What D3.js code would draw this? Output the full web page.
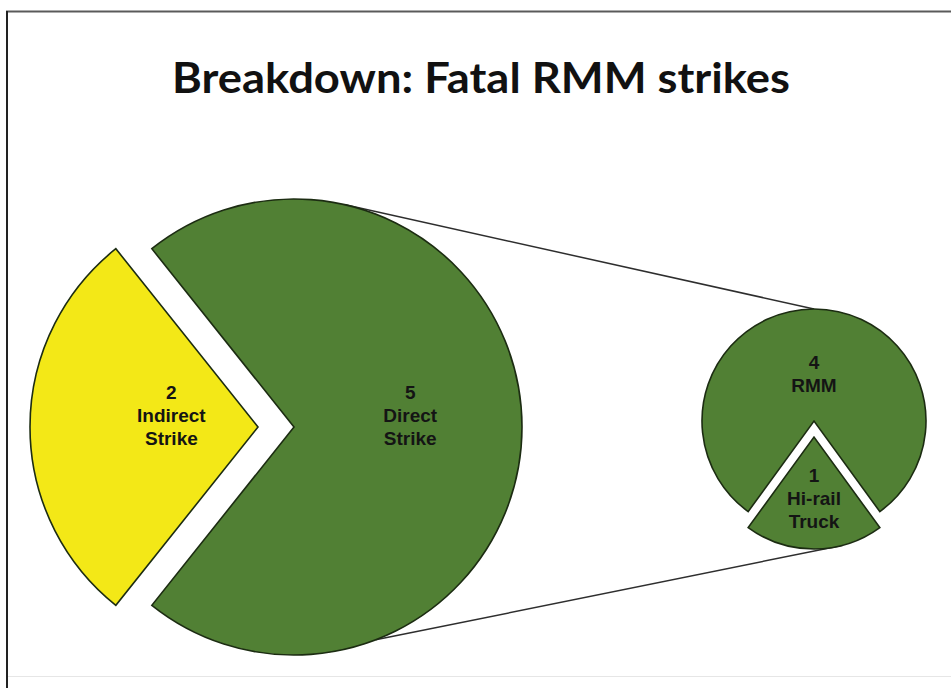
<!DOCTYPE html>
<html>
<head>
<meta charset="utf-8">
<script src="https://cdn.jsdelivr.net/npm/d3@7"></script>
<style>
  body { margin: 0; background: #fff; }
</style>
</head>
<body>
<script>
// chart values
const title = "Breakdown: Fatal RMM strikes";
const mainLabels = ["Indirect Strike", "Direct Strike"];
const mainValues = [2, 5];
const subLabels = ["RMM", "Hi-rail Truck"];
const subValues = [4, 1];

const width = 951, height = 688;

const svg = d3.select("body").append("svg")
    .attr("width", width)
    .attr("height", height);

// frame (top and left edges, faint bottom)
svg.append("line").attr("x1", 6).attr("x2", width).attr("y1", 11.5).attr("y2", 11.5)
    .attr("stroke", "#5a5a5a").attr("stroke-width", 2);
svg.append("line").attr("x1", 7).attr("x2", 7).attr("y1", 11).attr("y2", height)
    .attr("stroke", "#222").attr("stroke-width", 2);
svg.append("line").attr("x1", 8).attr("x2", width).attr("y1", 676.5).attr("y2", 676.5)
    .attr("stroke", "#e6e6e6").attr("stroke-width", 1);

// title
svg.append("text")
    .attr("x", 481).attr("y", 93)
    .attr("text-anchor", "middle")
    .attr("font-family", "Lato, 'Open Sans', sans-serif")
    .attr("font-weight", "bold")
    .attr("font-size", 42)
    .attr("textLength", 618)
    .attr("lengthAdjust", "spacingAndGlyphs")
    .attr("fill", "#111")
    .text(title);

const green = "#518034", yellow = "#f3e817", edge = "#1c2c12";

// layout of the two pies
const mainPie = {cx: 294, cy: 427, r: 228};
const subPie = {cx: 814, cy: 421, r: 112};

const tau = 2 * Math.PI;
// indirect slice centred on the left, hi-rail slice centred at the bottom
const mainArcs = d3.pie().sort(null)
    .startAngle(1.5 * Math.PI - Math.PI * mainValues[0] / d3.sum(mainValues))
    .endAngle(1.5 * Math.PI - Math.PI * mainValues[0] / d3.sum(mainValues) + tau)
    (mainValues);
const subStart = Math.PI + Math.PI * subValues[1] / d3.sum(subValues);
const subArcs = d3.pie().sort(null)
    .startAngle(subStart).endAngle(subStart + tau)
    (subValues);

const mainExplode = [36, 0], subExplode = [0, 16];
const mainLabelFrac = [0.38, 0.51], subLabelFrac = [0.32, 0.65];
const mainFill = [yellow, green], subFill = [green, green];

function offset(d, dist) {
  const a = (d.startAngle + d.endAngle) / 2;
  return [Math.sin(a) * dist, -Math.cos(a) * dist];
}

// connector lines between the two pies
function onCircle(p, ang, dx = 0, dy = 0) {
  return [p.cx + dx + p.r * Math.sin(ang), p.cy + dy - p.r * Math.cos(ang)];
}
const subHi = subArcs[1];
const hiOff = offset(subHi, subExplode[1]);
const connectors = [
  [onCircle(mainPie, 13 * Math.PI / 180), onCircle(subPie, 0)],
  [onCircle(mainPie, 159 * Math.PI / 180), onCircle(subPie, 165 * Math.PI / 180, hiOff[0], hiOff[1])]
];
svg.selectAll(".connector")
  .data(connectors)
  .enter().append("line")
    .attr("class", "connector")
    .attr("x1", d => d[0][0]).attr("y1", d => d[0][1])
    .attr("x2", d => d[1][0]).attr("y2", d => d[1][1])
    .attr("stroke", "#2e2e2e")
    .attr("stroke-width", 1.5);

function drawPie(pie, arcs, labels, explode, fills, fracs) {
  const arc = d3.arc().innerRadius(0).outerRadius(pie.r);
  const g = svg.append("g")
      .attr("transform", `translate(${pie.cx},${pie.cy})`);

  const slice = g.selectAll(".slice")
    .data(arcs)
    .enter().append("g")
      .attr("class", "slice")
      .attr("transform", (d, i) => `translate(${offset(d, explode[i])})`);

  slice.append("path")
      .attr("d", arc)
      .attr("fill", (d, i) => fills[i])
      .attr("stroke", edge)
      .attr("stroke-width", 1.6)
      .attr("stroke-linejoin", "miter");

  const lh = 23;
  slice.each(function(d, i) {
    const lines = [String(d.data)].concat(labels[i].split(" "));
    const [lx, ly] = offset(d, pie.r * fracs[i]);
    const t = d3.select(this).append("text")
        .attr("text-anchor", "middle")
        .attr("font-family", "'Liberation Sans', Arial, sans-serif")
        .attr("font-weight", "bold")
        .attr("font-size", 19)
        .attr("fill", "#141414");
    lines.forEach((s, k) => {
      t.append("tspan")
          .attr("x", lx)
          .attr("y", ly + (k - (lines.length - 1) / 2) * lh - 5)
          .text(s);
    });
  });
}

drawPie(mainPie, mainArcs, mainLabels, mainExplode, mainFill, mainLabelFrac);
drawPie(subPie, subArcs, subLabels, subExplode, subFill, subLabelFrac);
</script>
</body>
</html>
